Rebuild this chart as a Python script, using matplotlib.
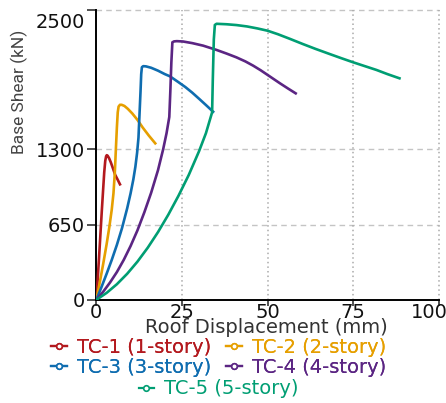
import matplotlib
matplotlib.use("Agg")
import matplotlib.pyplot as plt
from matplotlib.lines import Line2D
from matplotlib.transforms import ScaledTranslation

plt.rcParams['font.family'] = ['DejaVu Sans']

# pushover curves (displacement mm, base shear kN)
tc1_x = [0, 0.4, 0.8, 1.2, 1.6, 2.0, 2.3, 2.6, 2.85, 3.05, 3.3, 3.7, 4.2, 4.8, 5.5, 6.2, 6.9]
tc1_y = [0, 180, 370, 570, 770, 960, 1100, 1200, 1240, 1250, 1245, 1225, 1190, 1140, 1080, 1040, 998]

tc2_x = [0, 1, 2, 3, 3.8, 4.5, 5.0, 5.4, 5.7, 6.0, 6.25, 6.5, 6.9, 7.4, 8.2, 9.2, 10.5, 12.0, 13.5, 15.3, 17.2]
tc2_y = [0, 150, 310, 480, 630, 780, 920, 1100, 1300, 1490, 1620, 1670, 1685, 1685, 1675, 1650, 1610, 1555, 1490, 1420, 1352]

tc3_x = [0, 1.5, 3, 4.5, 6, 7.5, 9, 10, 10.8, 11.4, 11.9, 12.3, 12.6, 12.9, 13.1, 13.3, 13.7, 14.5,
         16, 18, 20, 21.5, 24, 26, 28, 30, 32, 34.1]
tc3_y = [0, 110, 225, 345, 475, 620, 790, 920, 1040, 1150, 1270, 1400, 1600, 1800, 1950, 2010, 2019, 2017,
         2005, 1980, 1950, 1931, 1880, 1838, 1790, 1737, 1683, 1625]

tc4_x = [0, 2, 4, 6, 8, 10, 12, 14, 16, 18, 19.5, 20.5, 21.3, 21.6, 21.9, 22.2, 22.7, 23.5,
         25.3, 28, 31.2, 35.1, 38, 40.9, 43.5, 45.8, 48, 50, 53.6, 56, 58.2]
tc4_y = [0, 70, 150, 240, 345, 465, 600, 755, 925, 1120, 1300, 1440, 1580, 1800, 2050, 2225, 2233, 2235,
         2232, 2218, 2196, 2159, 2128, 2095, 2060, 2023, 1983, 1943, 1871, 1825, 1784]

tc5_x = [0, 3, 6, 9, 12, 15, 18, 21, 24, 27, 30, 32, 33.8, 34.0, 34.3, 34.6, 35.1,
         38, 40.9, 44, 47, 50, 53, 56.5, 60.3, 64, 68.1, 71.5, 75, 78.5, 81.8, 85, 88.5]
tc5_y = [0, 60, 135, 225, 330, 450, 585, 735, 900, 1080, 1285, 1440, 1620, 1900, 2250, 2375, 2385,
         2381, 2374, 2362, 2345, 2325, 2295, 2255, 2210, 2168, 2124, 2088, 2052, 2018, 1986, 1950, 1914]

labels = ['TC-1 (1-story)', 'TC-2 (2-story)', 'TC-3 (3-story)', 'TC-4 (4-story)', 'TC-5 (5-story)']
colors = ['#B3191E', '#E69F00', '#0F6DB0', '#5B2583', '#009E73']
xticks = [0, 25, 50, 75, 100]
yticks = [0, 650, 1300, 2500]

fig = plt.figure(figsize=(4.46, 4.03), dpi=100)
ax = fig.add_axes([0.216, 0.256, 0.768, 0.718])

series = [(tc1_x, tc1_y), (tc2_x, tc2_y), (tc3_x, tc3_y), (tc4_x, tc4_y), (tc5_x, tc5_y)]
for (xs, ys), c in zip(series, colors):
    ax.plot(xs, ys, color=c, lw=1.9, solid_joinstyle='round', zorder=3)

ax.set_xlim(0, 100)
ax.set_ylim(0, 2500)
ax.set_xticks(xticks)
ax.set_yticks(yticks)
ax.tick_params(labelsize=14, width=1.1, colors='#222222')
ax.tick_params(axis='y', length=6.5, pad=1.5)
ax.tick_params(axis='x', length=4, pad=-1.5)
for lab in ax.get_xticklabels() + ax.get_yticklabels():
    lab.set_color('#111111')

# nudge the edge labels inside the figure like in the original
ax.get_yticklabels()[-1].set_transform(ax.get_yticklabels()[-1].get_transform()
                                       + ScaledTranslation(0, -0.10, fig.dpi_scale_trans))
ax.get_xticklabels()[-1].set_transform(ax.get_xticklabels()[-1].get_transform()
                                       + ScaledTranslation(-0.10, 0, fig.dpi_scale_trans))

# grid: dashed horizontals, dotted verticals (they also stand in for top/right frame)
for y in yticks[1:]:
    ax.axhline(y, color='#c4c4c4', ls=(0, (4, 3)), lw=1, zorder=1, clip_on=False)
for x in xticks[1:]:
    ax.axvline(x, color='#aaaaaa', ls=(0, (1, 2)), lw=1.1, zorder=1, clip_on=False)

ax.spines['top'].set_visible(False)
ax.spines['right'].set_visible(False)
ax.spines['left'].set_linewidth(1.4)
ax.spines['bottom'].set_linewidth(1.4)

ax.set_ylabel('Base Shear (kN)', fontsize=12.5, color='#444444', family=['Roboto', 'DejaVu Sans'])
ax.yaxis.set_label_coords(-0.200, 0.718)
ax.set_xlabel('Roof Displacement (mm)', fontsize=14, color='#333333')
ax.xaxis.set_label_coords(0.497, -0.064)

handles = [Line2D([], [], color=c, lw=1.6, marker='o', markersize=4,
                  markerfacecolor='white', markeredgewidth=1.2) for c in colors]

# matplotlib fills legend columns first, so order the first four row by row
order = [0, 2, 1, 3]
leg1 = fig.legend([handles[i] for i in order], [labels[i] for i in order], ncol=2, loc='center',
                  bbox_to_anchor=(0.49, 0.113), frameon=False, fontsize=14, handlelength=0.8,
                  handletextpad=0.5, columnspacing=0.8, labelspacing=0.08, borderpad=0)
for t, i in zip(leg1.get_texts(), order):
    t.set_color(colors[i])
leg2 = fig.legend(handles[4:], labels[4:], loc='center', bbox_to_anchor=(0.49, 0.035),
                  frameon=False, fontsize=14, handlelength=0.8, handletextpad=0.5, borderpad=0)
for t in leg2.get_texts():
    t.set_color(colors[4])
fig.add_artist(leg1)

fig.savefig('out.png', dpi=100, facecolor='white')
